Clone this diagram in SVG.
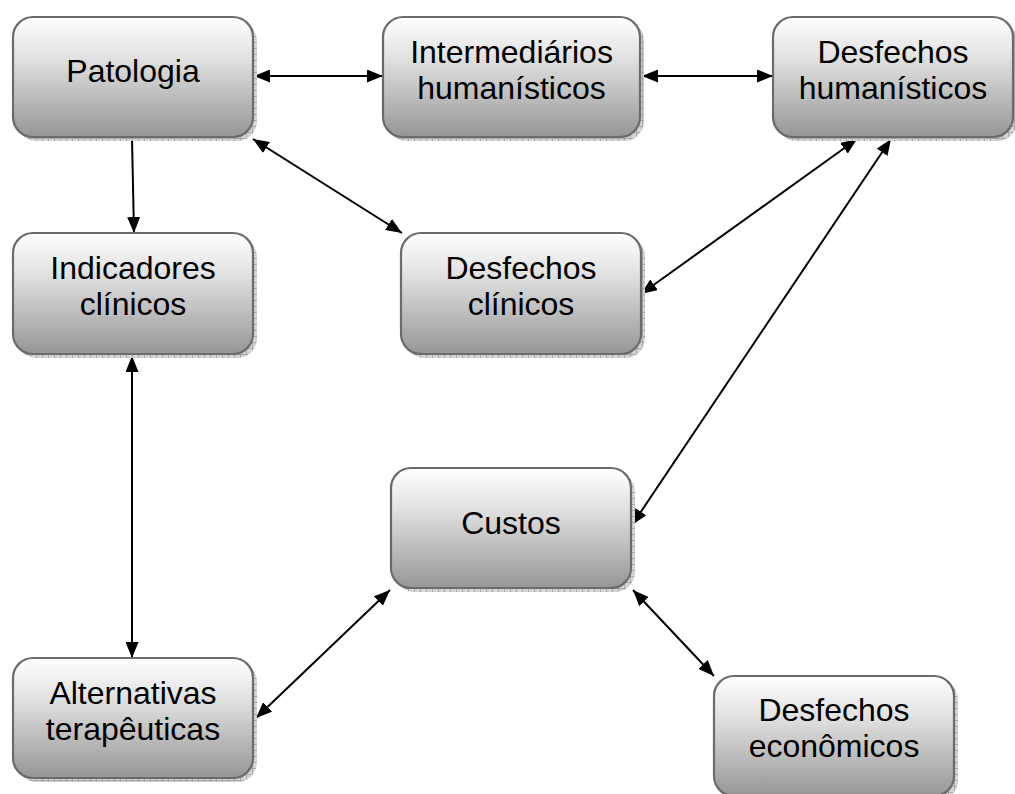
<svg xmlns="http://www.w3.org/2000/svg" width="1015" height="794" viewBox="0 0 1015 794">
  <defs>
    <linearGradient id="boxFill" x1="0" y1="0" x2="0" y2="1">
      <stop offset="0" stop-color="#ffffff"/>
      <stop offset="0.35" stop-color="#e0e0e0"/>
      <stop offset="1" stop-color="#969696"/>
    </linearGradient>
    <pattern id="hatch" width="6" height="6" patternUnits="userSpaceOnUse">
      <rect width="6" height="6" fill="#d4d4d4"/>
      <path d="M0,0.5 H6 M0.5,0 V6" stroke="#a8a8a8" stroke-width="1"/>
    </pattern>
    <marker id="arrow" viewBox="0 0 16 13" refX="16" refY="6.5" markerWidth="16" markerHeight="13" markerUnits="userSpaceOnUse" orient="auto-start-reverse">
      <path d="M0,0 L16,6.5 L0,13 Z" fill="#000"/>
    </marker>
  </defs>
  <style>
    .shadow { fill: url(#hatch); }
    .box { fill: url(#boxFill); stroke: #6b6b6b; stroke-width: 2.2; }
    .label { font-family: "Liberation Sans", Arial, sans-serif; font-size: 32px; fill: #000; text-anchor: middle; }
    .link { stroke: #000; stroke-width: 2; fill: none; }
    .both { marker-start: url(#arrow); marker-end: url(#arrow); }
    .one { marker-end: url(#arrow); }
  </style>

  <rect width="1015" height="794" fill="#ffffff"/>

  <!-- connectors -->
  <g id="connectors">
    <line class="link both" x1="254" y1="76" x2="383" y2="76"/>
    <line class="link both" x1="642" y1="76" x2="773" y2="76"/>
    <line class="link one" x1="132" y1="139" x2="134" y2="233"/>
    <line class="link both" x1="253" y1="139" x2="402" y2="233"/>
    <line class="link both" x1="857" y1="139" x2="641" y2="294"/>
    <line class="link both" x1="891" y1="139" x2="632" y2="525"/>
    <line class="link both" x1="132" y1="356" x2="132" y2="658"/>
    <line class="link both" x1="390" y1="590" x2="256" y2="718"/>
    <line class="link both" x1="633" y1="590" x2="714" y2="676"/>
  </g>

  <!-- nodes -->
  <g id="patologia">
    <rect class="shadow" x="17" y="21" width="240" height="120" rx="20"/>
    <rect class="box" x="13" y="17" width="240" height="120" rx="20"/>
    <text class="label" x="133" y="82">Patologia</text>
  </g>

  <g id="intermediarios">
    <rect class="shadow" x="387" y="21" width="257" height="120" rx="20"/>
    <rect class="box" x="383" y="17" width="257" height="120" rx="20"/>
    <text class="label" x="511.5" y="63">Intermediários</text>
    <text class="label" x="511.5" y="99">humanísticos</text>
  </g>

  <g id="desfechos-humanisticos">
    <rect class="shadow" x="777" y="21" width="240" height="120" rx="20"/>
    <rect class="box" x="773" y="17" width="240" height="120" rx="20"/>
    <text class="label" x="893" y="63">Desfechos</text>
    <text class="label" x="893" y="99">humanísticos</text>
  </g>

  <g id="indicadores">
    <rect class="shadow" x="17" y="237" width="240" height="121" rx="20"/>
    <rect class="box" x="13" y="233" width="240" height="121" rx="20"/>
    <text class="label" x="133" y="279">Indicadores</text>
    <text class="label" x="133" y="315">clínicos</text>
  </g>

  <g id="desfechos-clinicos">
    <rect class="shadow" x="405" y="237" width="240" height="121" rx="20"/>
    <rect class="box" x="401" y="233" width="240" height="121" rx="20"/>
    <text class="label" x="521" y="279">Desfechos</text>
    <text class="label" x="521" y="315">clínicos</text>
  </g>

  <g id="custos">
    <rect class="shadow" x="395" y="472" width="240" height="120" rx="20"/>
    <rect class="box" x="391" y="468" width="240" height="120" rx="20"/>
    <text class="label" x="511" y="534">Custos</text>
  </g>

  <g id="alternativas">
    <rect class="shadow" x="17" y="662" width="240" height="120" rx="20"/>
    <rect class="box" x="13" y="658" width="240" height="120" rx="20"/>
    <text class="label" x="133" y="704">Alternativas</text>
    <text class="label" x="133" y="740">terapêuticas</text>
  </g>

  <g id="desfechos-economicos">
    <rect class="shadow" x="718" y="680" width="240" height="120" rx="20"/>
    <rect class="box" x="714" y="676" width="240" height="120" rx="20"/>
    <text class="label" x="834" y="721">Desfechos</text>
    <text class="label" x="834" y="757">econômicos</text>
  </g>
</svg>
